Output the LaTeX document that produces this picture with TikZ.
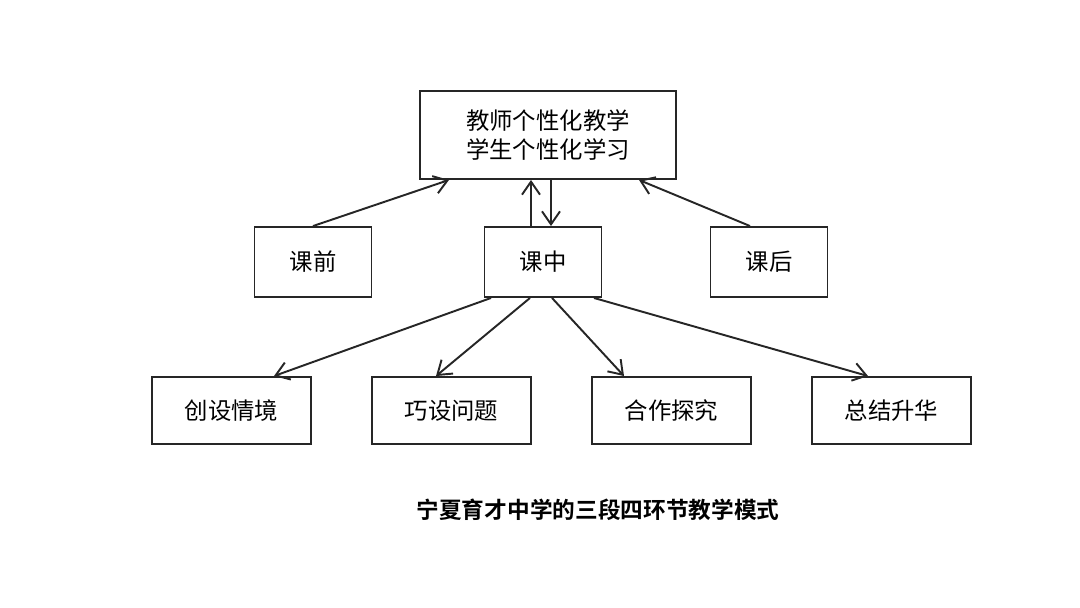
\documentclass[tikz,border=0pt]{standalone}
\usepackage{fontspec}
\setmainfont{Noto Sans CJK SC}
\newfontfamily\cjkbold{Noto Sans CJK SC Bold}
\usetikzlibrary{arrows.meta, positioning}

\begin{document}
\begin{tikzpicture}[
    box/.style={draw=black!85, line width=1.1pt, minimum width=2.34cm, minimum height=1.4cm, font=\fontsize{13.3}{17}\selectfont, inner sep=0pt},
    wide/.style={box, minimum width=3.18cm, minimum height=1.34cm},
    link/.style={-{Straight Barb[length=2.6mm, width=3.6mm]}, line width=1.1pt, black!85}]
\useasboundingbox (0,0) rectangle (21.6,-12.16);

% Top box
\node[box, minimum width=5.12cm, minimum height=1.76cm, align=center] (top) at (10.96,-2.7) {教师个性化教学\\学生个性化学习};

% Three stages
\node[box] (kq) at (6.26,-5.24) {课前};
\node[box] (kz) at (10.86,-5.24) {课中};
\node[box] (kh) at (15.38,-5.24) {课后};

% Four steps
\node[wide] (cs) at (4.63,-8.21) {创设情境};
\node[wide] (qs) at (9.03,-8.21) {巧设问题};
\node[wide] (hz) at (13.43,-8.21) {合作探究};
\node[wide] (zj) at (17.83,-8.21) {总结升华};

% Caption
\node[font=\cjkbold\fontsize{12.9}{14}\selectfont] (title) at (11.96,-10.2) {宁夏育才中学的三段四环节教学模式};

% Stages to top
\draw[link] (kq.north) -- ([xshift=-1.98cm]top.south);
\draw[link] ([xshift=-0.38cm]kh.north) -- ([xshift=1.82cm]top.south);
\draw[link] ([xshift=-0.24cm]kz.north) -- ([xshift=-0.34cm]top.south);
\draw[link] ([xshift=0.06cm]top.south) -- ([xshift=0.16cm]kz.north);

% In-class to steps
\draw[link] ([xshift=-1.04cm]kz.south) -- ([xshift=0.85cm]cs.north);
\draw[link] ([xshift=-0.26cm]kz.south) -- ([xshift=-0.31cm]qs.north);
\draw[link] ([xshift=0.18cm]kz.south) -- ([xshift=-0.95cm]hz.north);
\draw[link] ([xshift=1.02cm]kz.south) -- ([xshift=-0.47cm]zj.north);
\end{tikzpicture}
\end{document}
